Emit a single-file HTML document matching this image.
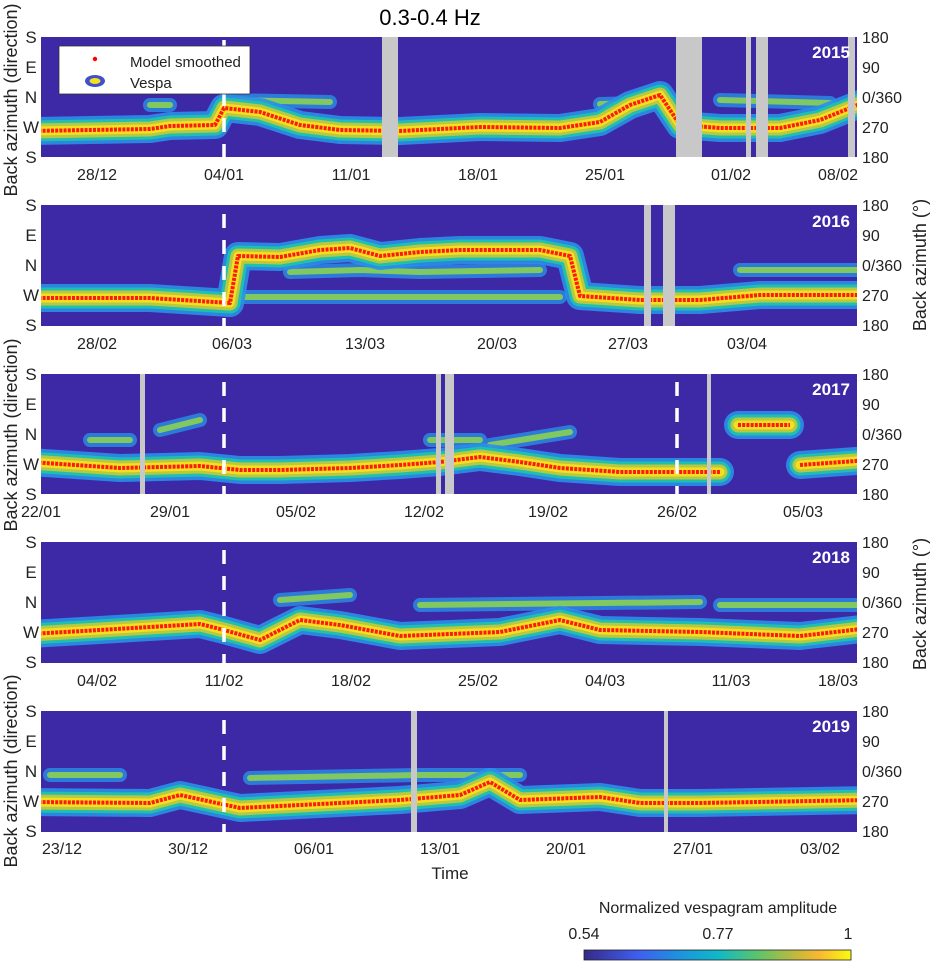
<!DOCTYPE html>
<html><head><meta charset="utf-8"><style>
html,body{margin:0;padding:0;background:#fff}
svg text{font-family:"Liberation Sans",Arial,sans-serif}
</style></head><body>
<svg width="930" height="961" viewBox="0 0 930 961" xmlns="http://www.w3.org/2000/svg">
<defs>
<clipPath id="cp">
<rect x="41" y="37" width="816" height="120"/>
<rect x="41" y="205" width="816" height="121"/>
<rect x="41" y="374" width="816" height="120"/>
<rect x="41" y="542" width="816" height="121"/>
<rect x="41" y="711" width="816" height="121"/>
</clipPath>
<linearGradient id="cb" x1="0" x2="1" y1="0" y2="0">
<stop offset="0" stop-color="#352a87"/><stop offset="0.2" stop-color="#3f5ef0"/>
<stop offset="0.35" stop-color="#1e90e0"/><stop offset="0.5" stop-color="#0fb8c8"/>
<stop offset="0.65" stop-color="#5cc46a"/><stop offset="0.8" stop-color="#c8b83a"/>
<stop offset="0.88" stop-color="#f8b830"/><stop offset="1" stop-color="#f9fb0e"/>
</linearGradient>
<path id="l1" d="M30,131 L150,129 L170,126 L215,125 L224,108 L260,112 L300,125 L340,130 L400,131 L480,127 L560,128 L600,122 L630,105 L660,95 L680,125 L720,128 L780,128 L820,120 L870,100"/>
<path id="e1" d="M150,105 L170,105 M225,100 L330,102 M600,104 L680,102 M720,100 L830,103"/>
<path id="l2" d="M30,298 L150,298 L230,303 L238,256 L280,257 L320,250 L350,248 L380,256 L420,252 L460,250 L500,250 L540,250 L570,256 L580,296 L640,300 L700,300 L760,295 L870,295"/>
<path id="e2" d="M290,272 L360,270 L420,272 L540,270 M240,297 L560,297 M740,270 L870,270"/>
<path id="l3" d="M30,462 L120,468 L200,466 L240,470 L280,470 L350,468 L400,465 L440,462 L480,457 L520,462 L560,468 L620,472 L720,472 M738,425 L790,425 M800,465 L870,460"/>
<path id="e3" d="M90,440 L130,440 M160,430 L200,420 M430,440 L480,440 M490,445 L570,432"/>
<path id="l4" d="M30,634 L100,630 L200,624 L224,630 L260,640 L300,620 L340,625 L400,636 L500,632 L560,620 L600,630 L700,632 L800,636 L870,628"/>
<path id="e4" d="M280,600 L350,595 M420,605 L700,602 M720,605 L870,605"/>
<path id="l5" d="M30,802 L150,803 L180,795 L240,808 L300,805 L400,800 L460,795 L490,782 L520,800 L600,797 L640,803 L700,803 L870,800"/>
<path id="e5" d="M50,775 L120,775 M250,778 L420,775 M420,775 L520,775"/>
</defs>
<text x="430" y="25" font-size="22" text-anchor="middle" fill="#000">0.3-0.4 Hz</text>

<g>
<rect x="41" y="37" width="816" height="120" fill="#3d28a6"/>
<rect x="41" y="205" width="816" height="121" fill="#3d28a6"/>
<rect x="41" y="374" width="816" height="120" fill="#3d28a6"/>
<rect x="41" y="542" width="816" height="121" fill="#3d28a6"/>
<rect x="41" y="711" width="816" height="121" fill="#3d28a6"/>
</g>
<g fill="none" stroke-linejoin="round" stroke-linecap="round" clip-path="url(#cp)">
<g stroke="#2a8fe8" stroke-width="14" opacity="0.8"><use href="#e1"/><use href="#e2"/><use href="#e3"/><use href="#e4"/><use href="#e5"/></g>
<g stroke="#80c860" stroke-width="6"><use href="#e1"/><use href="#e2"/><use href="#e3"/><use href="#e4"/><use href="#e5"/></g>
<g stroke="#2a8fe8" stroke-width="28" opacity="0.9"><use href="#l1"/><use href="#l2"/><use href="#l3"/><use href="#l4"/><use href="#l5"/></g>
<g stroke="#20c0b0" stroke-width="21"><use href="#l1"/><use href="#l2"/><use href="#l3"/><use href="#l4"/><use href="#l5"/></g>
<g stroke="#b8c840" stroke-width="15"><use href="#l1"/><use href="#l2"/><use href="#l3"/><use href="#l4"/><use href="#l5"/></g>
<g stroke="#f5e020" stroke-width="9"><use href="#l1"/><use href="#l2"/><use href="#l3"/><use href="#l4"/><use href="#l5"/></g>
<g stroke="#ff1a10" stroke-width="4" stroke-dasharray="3 1.2" stroke-linecap="butt"><use href="#l1"/><use href="#l2"/><use href="#l3"/><use href="#l4"/><use href="#l5"/></g>
</g>
<g fill="#c8c8c8">
<rect x="382" y="37" width="16" height="120"/><rect x="676" y="37" width="26" height="120"/>
<rect x="746" y="37" width="5" height="120"/><rect x="756" y="37" width="12" height="120"/><rect x="848" y="37" width="7" height="120"/>
<rect x="644" y="205" width="7" height="121"/><rect x="663" y="205" width="12" height="121"/>
<rect x="140" y="374" width="5" height="120"/><rect x="436" y="374" width="5" height="120"/><rect x="445" y="374" width="9" height="120"/><rect x="707" y="374" width="4" height="120"/>
<rect x="411" y="711" width="6" height="121"/><rect x="664" y="711" width="4" height="121"/>
</g>
<g stroke="#fff" stroke-width="3.5" stroke-dasharray="14 12">
<line x1="224" y1="40" x2="224" y2="157"/><line x1="224" y1="214" x2="224" y2="326"/>
<line x1="224" y1="382" x2="224" y2="494"/><line x1="677" y1="382" x2="677" y2="494"/>
<line x1="224" y1="550" x2="224" y2="663"/><line x1="224" y1="720" x2="224" y2="832"/>
</g>
<g font-size="17" font-weight="bold" fill="#fff" text-anchor="end">
<text x="850" y="58">2015</text><text x="850" y="227">2016</text><text x="850" y="395">2017</text><text x="850" y="563">2018</text><text x="850" y="732">2019</text>
</g>
<rect x="59" y="46" width="191" height="48" fill="#fff" stroke="#333" stroke-width="0.8"/>
<circle cx="95" cy="59" r="2.2" fill="#f00"/>
<ellipse cx="95" cy="81" rx="10" ry="6" fill="#4050c8"/><ellipse cx="95" cy="81" rx="5.5" ry="3" fill="#f5e020"/>
<text x="130" y="67" font-size="15" fill="#222">Model smoothed</text>
<text x="130" y="88" font-size="15" fill="#222">Vespa</text>
<g font-size="17" fill="#222" text-anchor="middle">
<g><text x="31" y="43">S</text><text x="31" y="73">E</text><text x="31" y="103">N</text><text x="31" y="133">W</text><text x="31" y="163">S</text></g>
<g transform="translate(0,168)"><text x="31" y="43">S</text><text x="31" y="73">E</text><text x="31" y="103">N</text><text x="31" y="133">W</text><text x="31" y="163">S</text></g>
<g transform="translate(0,337)"><text x="31" y="43">S</text><text x="31" y="73">E</text><text x="31" y="103">N</text><text x="31" y="133">W</text><text x="31" y="163">S</text></g>
<g transform="translate(0,505)"><text x="31" y="43">S</text><text x="31" y="73">E</text><text x="31" y="103">N</text><text x="31" y="133">W</text><text x="31" y="163">S</text></g>
<g transform="translate(0,674)"><text x="31" y="43">S</text><text x="31" y="73">E</text><text x="31" y="103">N</text><text x="31" y="133">W</text><text x="31" y="163">S</text></g>
</g>
<g font-size="16" fill="#222">
<g><text x="862" y="43">180</text><text x="862" y="73">90</text><text x="862" y="103">0/360</text><text x="862" y="133">270</text><text x="862" y="163">180</text></g>
<g transform="translate(0,168)"><text x="862" y="43">180</text><text x="862" y="73">90</text><text x="862" y="103">0/360</text><text x="862" y="133">270</text><text x="862" y="163">180</text></g>
<g transform="translate(0,337)"><text x="862" y="43">180</text><text x="862" y="73">90</text><text x="862" y="103">0/360</text><text x="862" y="133">270</text><text x="862" y="163">180</text></g>
<g transform="translate(0,505)"><text x="862" y="43">180</text><text x="862" y="73">90</text><text x="862" y="103">0/360</text><text x="862" y="133">270</text><text x="862" y="163">180</text></g>
<g transform="translate(0,674)"><text x="862" y="43">180</text><text x="862" y="73">90</text><text x="862" y="103">0/360</text><text x="862" y="133">270</text><text x="862" y="163">180</text></g>
</g>
<g font-size="16" fill="#222" text-anchor="middle">
<text x="97" y="180">28/12</text><text x="224" y="180">04/01</text><text x="351" y="180">11/01</text><text x="478" y="180">18/01</text><text x="605" y="180">25/01</text><text x="731" y="180">01/02</text><text x="838" y="180">08/02</text>
<text x="97" y="349">28/02</text><text x="232" y="349">06/03</text><text x="365" y="349">13/03</text><text x="497" y="349">20/03</text><text x="628" y="349">27/03</text><text x="747" y="349">03/04</text>
<text x="41" y="517">22/01</text><text x="170" y="517">29/01</text><text x="296" y="517">05/02</text><text x="424" y="517">12/02</text><text x="548" y="517">19/02</text><text x="677" y="517">26/02</text><text x="803" y="517">05/03</text>
<text x="97" y="686">04/02</text><text x="224" y="686">11/02</text><text x="351" y="686">18/02</text><text x="478" y="686">25/02</text><text x="605" y="686">04/03</text><text x="731" y="686">11/03</text><text x="838" y="686">18/03</text>
<text x="62" y="854">23/12</text><text x="188" y="854">30/12</text><text x="314" y="854">06/01</text><text x="440" y="854">13/01</text><text x="566" y="854">20/01</text><text x="693" y="854">27/01</text><text x="820" y="854">03/02</text>
</g>
<text x="450" y="879" font-size="17" fill="#222" text-anchor="middle">Time</text>
<g font-size="18" fill="#222" text-anchor="middle">
<text transform="translate(17,100) rotate(-90)">Back azimuth (direction)</text>
<text transform="translate(17,435) rotate(-90)">Back azimuth (direction)</text>
<text transform="translate(17,771) rotate(-90)">Back azimuth (direction)</text>
<text transform="translate(926,265) rotate(-90)">Back azimuth (°)</text>
<text transform="translate(926,604) rotate(-90)">Back azimuth (°)</text>
</g>
<text x="718" y="913" font-size="16" fill="#222" text-anchor="middle">Normalized vespagram amplitude</text>
<g font-size="16" fill="#222" text-anchor="middle"><text x="584" y="939">0.54</text><text x="718" y="939">0.77</text><text x="848" y="939">1</text></g>
<rect x="584" y="950" width="267" height="10" fill="url(#cb)" stroke="#222" stroke-width="0.8"/>
</svg>
</body></html>
